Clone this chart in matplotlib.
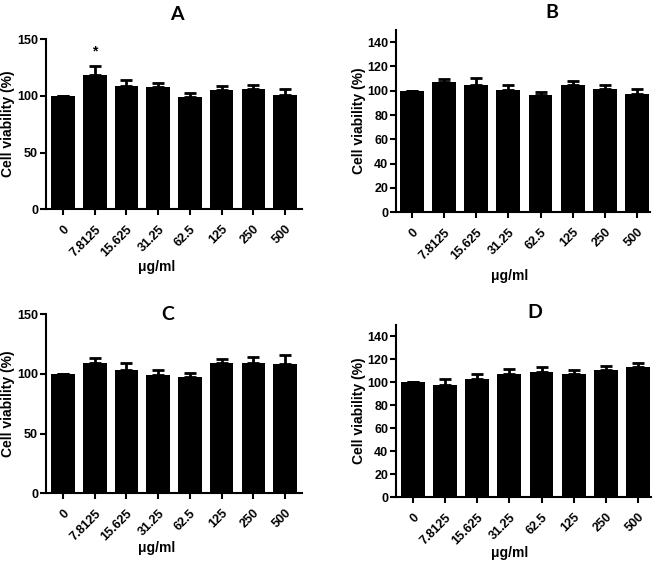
import numpy as np
import matplotlib
matplotlib.use("Agg")
import matplotlib.pyplot as plt

plt.rcParams['font.family'] = ['Liberation Sans', 'DejaVu Sans']
plt.rcParams['font.weight'] = 'bold'

doses = ["0", "7.8125", "15.625", "31.25", "62.5", "125", "250", "500"]

# mean values and upper error (SD)
mean_a = [100, 118.8, 108.5, 107.6, 99.1, 105.0, 106.2, 100.9]
err_a = [0, 7.8, 5.3, 3.9, 3.5, 4.0, 3.8, 5.3]

mean_b = [100, 106.9, 105.0, 100.9, 96.2, 104.4, 101.1, 97.6]
err_b = [0, 3.0, 5.7, 3.5, 2.7, 3.9, 3.6, 3.8]

mean_c = [100, 109.5, 103.6, 99.4, 97.8, 108.9, 108.9, 108.4]
err_c = [0, 3.9, 5.3, 4.0, 3.0, 3.9, 5.6, 7.2]

mean_d = [100, 97.9, 102.8, 107.5, 109.2, 107.5, 110.4, 113.3]
err_d = [0, 4.9, 4.7, 4.0, 4.1, 3.5, 3.5, 4.0]

W, H = 657, 563
fig = plt.figure(figsize=(W / 100, H / 100), dpi=100)


def px_axes(left, top, right, bottom):
    return fig.add_axes([left / W, 1 - bottom / H, (right - left) / W, (bottom - top) / H])


def draw_panel(ax, means, errs, yticks, xlim):
    x = np.arange(len(doses))
    ax.bar(x, means, width=0.74, color="black", zorder=2)
    ax.errorbar(x, means, yerr=[np.zeros(len(errs)), errs], fmt="none",
                ecolor="black", elinewidth=2, capsize=4.5, capthick=2, zorder=1)
    ax.set_ylim(0, 150)
    ax.set_xlim(*xlim)
    ax.set_yticks(yticks)
    ax.set_xticks(x)
    ax.set_xticklabels(doses, rotation=45, ha="right", rotation_mode="anchor")
    for s in ["top", "right"]:
        ax.spines[s].set_visible(False)
    for s in ["left", "bottom"]:
        ax.spines[s].set_linewidth(1.5)
    ax.tick_params(direction="out", length=4, width=1.5, labelsize=9)
    ax.tick_params(axis="x", pad=6)
    ax.tick_params(axis="y", pad=1.5)
    for lab in ax.get_xticklabels() + ax.get_yticklabels():
        lab.set_fontweight("bold")


ax_a = px_axes(45.7, 39.3, 301.7, 209.3)
draw_panel(ax_a, mean_a, err_a, [0, 50, 100, 150], (-0.55, 7.53))
ax_a.text(1, 139, "*", ha="center", va="center", fontsize=10)

ax_b = px_axes(395.7, 30, 650, 212.3)
draw_panel(ax_b, mean_b, err_b, range(0, 141, 20), (-0.5, 7.4))

ax_c = px_axes(45.7, 314.3, 301.7, 493.3)
draw_panel(ax_c, mean_c, err_c, [0, 50, 100, 150], (-0.55, 7.53))

ax_d = px_axes(395.7, 325, 651, 497.3)
draw_panel(ax_d, mean_d, err_d, range(0, 141, 20), (-0.53, 7.4))

titles = [("A", 177, 14), ("B", 552, 12), ("C", 168, 315), ("D", 535, 313)]
for t, tx, ty in titles:
    fig.text(tx / W, 1 - ty / H, t, ha="center", va="center", fontsize=14,
             fontweight="bold", family=["Lato", "DejaVu Sans"])

ylabels = [(8, 124), (359, 121), (8, 404), (359, 411)]
for lx, ly in ylabels:
    fig.text(lx / W, 1 - ly / H, "Cell viability (%)", rotation=90, ha="center", va="center",
             fontsize=10, fontweight="bold")

xlabels = [(157, 267), (510, 276), (157, 548), (510, 553)]
for lx, ly in xlabels:
    fig.text(lx / W, 1 - ly / H, "\u03bcg/ml", ha="center", va="center", fontsize=10, fontweight="bold")

fig.savefig("out.png", dpi=100)
